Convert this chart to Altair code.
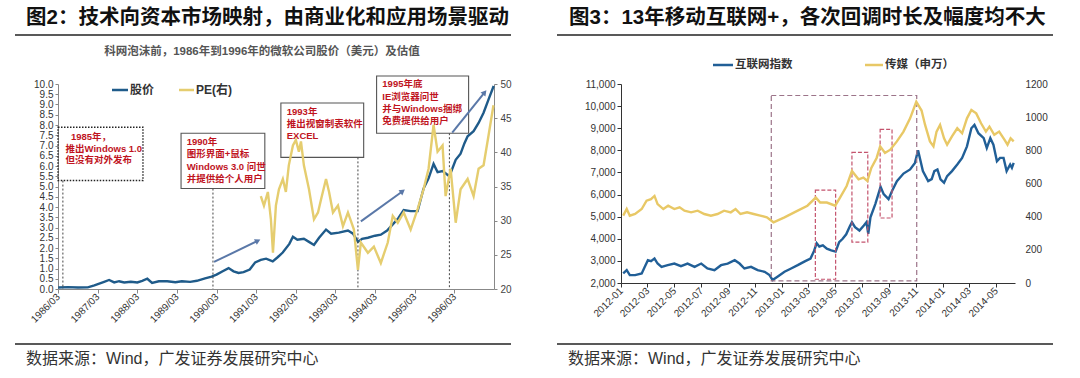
import altair as alt
import pandas as pd

CJK = "Noto Sans CJK SC"
LAT = "Liberation Sans"
MIX = "Liberation Sans, Noto Sans CJK SC"

# ---------------- texts ----------------
f2_title = "图2：技术向资本市场映射，由商业化和应用场景驱动"
f2_subtitle = "科网泡沫前，1986年到1996年的微软公司股价（美元）及估值"
f2_series = ["股价", "PE(右)"]
f3_title = "图3：13年移动互联网+，各次回调时长及幅度均不大"
f3_series = ["互联网指数", "传媒（申万）"]
source_text = "数据来源：Wind，广发证券发展研究中心"

# ---------------- Figure 2 data ----------------
stock_dates = ["1986-03-03","1986-06-01","1986-09-01","1986-12-01","1987-01-30","1987-04-30","1987-06-15","1987-08-01","1987-09-15","1987-11-01",
               "1988-01-01","1988-03-01","1988-04-15","1988-06-01","1988-07-15","1988-09-15","1988-12-01","1989-02-15","1989-04-15","1989-07-01",
               "1989-09-01","1989-11-15","1990-01-15","1990-03-01","1990-05-01","1990-06-20","1990-08-05","1990-09-20","1990-11-05","1991-01-01",
               "1991-02-20","1991-04-13","1991-06-01","1991-08-01","1991-09-15","1991-11-01","1992-01-01","1992-02-03","1992-03-15","1992-05-14",
               "1992-06-30","1992-08-15","1992-10-01","1992-12-04","1993-01-20","1993-04-01","1993-06-24","1993-08-10","1993-09-24","1993-11-01",
               "1993-12-25","1994-03-01","1994-04-23","1994-06-20","1994-08-11","1994-10-01","1994-11-20","1995-01-23","1995-03-28","1995-05-22",
               "1995-07-07","1995-08-22","1995-09-28","1995-11-13","1996-01-15","1996-03-13","1996-04-27","1996-06-01","1996-07-01","1996-08-25",
               "1996-10-10","1996-11-25","1997-01-10","1997-02-26"]
stock_values = [0.07,0.09,0.07,0.08,0.18,0.35,0.44,0.32,0.38,0.32,
                0.35,0.32,0.40,0.50,0.30,0.38,0.38,0.33,0.38,0.35,
                0.40,0.52,0.60,0.70,0.88,1.02,0.86,0.78,0.82,0.95,
                1.30,1.42,1.48,1.35,1.55,1.78,2.20,2.55,2.40,2.45,
                2.30,2.15,2.50,2.90,2.70,2.75,2.85,2.70,2.30,2.45,
                2.50,2.60,2.65,2.85,3.15,3.45,3.85,3.80,3.80,4.90,
                5.40,6.10,5.70,5.75,5.50,6.30,6.60,7.10,7.45,7.70,
                8.10,8.60,9.25,9.90]

pe_dates = ["1991-04-13","1991-05-12","1991-06-17","1991-07-15","1991-08-03","1991-08-30","1991-09-27","1991-11-02","1991-11-30","1991-12-27",
            "1992-02-03","1992-03-01","1992-03-29","1992-04-17","1992-05-14","1992-06-30","1992-08-15","1992-09-21","1992-10-19","1992-12-04",
            "1993-01-01","1993-02-06","1993-03-24","1993-05-09","1993-06-24","1993-08-18","1993-09-24","1993-10-21","1993-12-25","1994-02-18",
            "1994-04-23","1994-06-26","1994-08-11","1994-09-26","1994-11-20","1995-01-23","1995-03-28","1995-05-22","1995-07-07","1995-08-22",
            "1995-09-28","1995-11-13","1995-12-11","1996-01-26","1996-03-13","1996-04-27","1996-07-01","1996-08-25","1996-10-10","1996-11-25",
            "1997-01-10","1997-02-24"]
pe_values = [33.6,32.2,34.2,30.2,25.3,32.2,34.6,36.1,34.2,38.1,
             41.0,41.8,40.1,41.6,38.1,34.6,30.2,31.2,33.1,36.1,
             34.2,31.2,32.2,29.2,31.2,28.7,22.8,26.8,25.3,26.2,
             23.8,26.8,30.7,29.7,31.2,28.7,31.7,34.6,37.6,44.0,
             40.1,41.0,33.6,37.6,29.7,34.6,36.1,33.6,37.6,38.1,
             42.5,46.9]

f2_x_domain = ["1986-03-01", "1997-03-01"]
f2_xticks = ["1986-03-01","1987-03-01","1988-03-01","1989-03-01","1990-03-01","1991-03-01",
             "1992-03-01","1993-03-01","1994-03-01","1995-03-01","1996-03-01"]
f2_left_ticks = [0,0.5,1,1.5,2,2.5,3,3.5,4,4.5,5,5.5,6,6.5,7,7.5,8,8.5,9,9.5,10]
f2_right_ticks = [20,25,30,35,40,45,50]

# annotation boxes (left-axis units)
f2_box_start = ["1986-03-01","1989-04-08","1991-10-15","1994-03-15"]
f2_box_end = ["1988-04-22","1991-05-20","1993-11-16","1996-07-10"]
f2_box_top = [7.89, 7.60, 9.07, 10.39]
f2_box_bottom = [5.29, 4.90, 6.42, 7.60]

# event lines
f2_event_dates = ["1986-04-15","1990-01-27","1993-09-24","1996-01-15"]
f2_event_top = [5.29, 4.90, 6.42, 7.60]
f2_event_bottom = [0, 0, 0, 0]

# notes
f2_note_text = ["1985年，", "推出Windows 1.0", "但没有对外发布",
                "1990年", "图形界面+鼠标", "Windows 3.0 问世", "并提供给个人用户",
                "1993年", "推出视窗制表软件", "EXCEL",
                "1995年底", "IE浏览器问世", "并与Windows捆绑", "免费提供给用户"]
f2_note_dates = ["1986-06-28", "1986-05-10", "1986-05-10",
                 "1989-05-30", "1989-05-30", "1989-05-30", "1989-05-30",
                 "1991-12-08", "1991-12-08", "1991-12-08",
                 "1994-05-07", "1994-05-07", "1994-05-07", "1994-05-07"]
f2_note_values = [7.42, 6.81, 6.29,
                  7.19, 6.57, 5.97, 5.39,
                  8.61, 8.04, 7.44,
                  10.0, 9.35, 8.77, 8.20]

# arrows
f2_arrow_start = ["1990-02-06", "1993-10-21", "1996-02-10"]
f2_arrow_end = ["1991-03-17", "1994-11-10", "1996-12-05"]
f2_arrow_v0 = [1.32, 3.30, 7.63]
f2_arrow_v1 = [2.35, 4.77, 9.59]
f2_arrow_angle = [64, 54, 39]

# ---------------- Figure 3 data ----------------
idx_dates = ["2012-01-06","2012-01-14","2012-01-21","2012-02-02","2012-02-17","2012-02-24","2012-03-02","2012-03-09","2012-03-17","2012-03-24",
             "2012-04-02","2012-04-16","2012-05-01","2012-05-16","2012-05-31","2012-06-16","2012-07-01","2012-07-15","2012-07-31","2012-08-15",
             "2012-08-30","2012-09-15","2012-09-26","2012-10-07","2012-10-22","2012-11-06","2012-11-22","2012-12-03","2012-12-10","2012-12-21",
             "2013-01-06","2013-01-21","2013-02-05","2013-02-21","2013-03-06","2013-03-14","2013-03-20","2013-03-26","2013-04-03","2013-04-12",
             "2013-04-22","2013-05-02","2013-05-10","2013-05-18","2013-05-26","2013-06-03","2013-06-08","2013-06-15","2013-06-25","2013-07-05",
             "2013-07-11","2013-07-15","2013-07-20","2013-07-31","2013-08-12","2013-08-19","2013-08-30","2013-09-07","2013-09-18","2013-10-03",
             "2013-10-18","2013-10-29","2013-11-05","2013-11-16","2013-11-28","2013-12-06","2013-12-12","2013-12-19","2013-12-26",
             "2014-01-03","2014-01-10","2014-01-21","2014-02-02","2014-02-13","2014-02-24","2014-03-06","2014-03-13","2014-03-22","2014-04-03",
             "2014-04-10","2014-04-18","2014-04-25","2014-05-03","2014-05-10","2014-05-18","2014-05-25","2014-06-02","2014-06-06","2014-06-10"]
idx_values = [2434,2582,2358,2358,2434,2731,3030,2985,3105,2880,
              2731,2806,2880,2760,2880,2731,2880,2656,2582,2806,
              2880,3030,2880,2656,2731,2582,2507,2358,2134,2284,
              2507,2656,2806,2980,3105,3450,3800,3650,3700,3550,
              3480,3420,3850,4000,4200,4550,4745,4521,4373,4600,
              4750,4225,4969,5569,6350,6017,5793,6165,6600,6950,
              7136,7432,8000,7060,6612,6700,7060,7136,6686,
              6537,6836,7060,7360,7657,8180,9000,9150,8775,8552,
              8104,8552,8256,7508,7657,7657,7060,7360,7208,7432]

media_dates = ["2012-01-06","2012-01-14","2012-01-21","2012-02-02","2012-02-17","2012-02-28","2012-03-09","2012-03-17","2012-03-24","2012-04-06",
               "2012-04-17","2012-05-01","2012-05-13","2012-05-24","2012-06-08","2012-06-23","2012-07-08","2012-07-23","2012-08-07","2012-08-22",
               "2012-09-06","2012-09-17","2012-09-28","2012-10-13","2012-10-28","2012-11-12","2012-11-27","2012-12-12",
               "2013-01-06","2013-02-05","2013-02-27","2013-03-18","2013-03-28","2013-04-12","2013-05-01","2013-05-12","2013-05-27","2013-06-08",
               "2013-06-23","2013-07-04","2013-07-13","2013-07-22","2013-08-03","2013-08-11","2013-08-22","2013-09-03","2013-09-18","2013-10-03",
               "2013-10-18","2013-11-01","2013-11-13","2013-11-21","2013-12-02","2013-12-10","2013-12-17","2013-12-25",
               "2014-01-03","2014-01-10","2014-01-21","2014-02-02","2014-02-13","2014-02-24","2014-03-06","2014-03-17","2014-03-28","2014-04-08",
               "2014-04-16","2014-04-27","2014-05-08","2014-05-20","2014-05-27","2014-06-03","2014-06-10"]
media_values = [406,446,406,416,446,496,506,525,476,446,
                466,446,456,436,426,436,416,406,416,436,
                426,446,416,426,416,406,396,366,
                396,436,466,515,485,485,466,515,585,675,
                625,635,615,694,754,824,784,804,854,913,
                993,1093,1040,953,854,824,913,953,
                873,834,884,933,903,993,1043,1023,963,913,
                943,894,913,864,834,873,854]

f3_x_domain = ["2012-01-01", "2014-06-13"]
f3_xticks = ["2012-01-01","2012-03-01","2012-05-01","2012-07-01","2012-09-01","2012-11-01",
             "2013-01-01","2013-03-01","2013-05-01","2013-07-01","2013-09-01","2013-11-01",
             "2014-01-01","2014-03-01","2014-05-01"]
f3_left_ticks = [2000,3000,4000,5000,6000,7000,8000,9000,10000,11000]
f3_right_ticks = [0,200,400,600,800,1000,1200]

# dashed boxes (left-axis units); first one is the overall window
f3_box_start = ["2012-12-07","2013-03-17","2013-06-08","2013-08-11"]
f3_box_end = ["2013-11-02","2013-05-02","2013-07-14","2013-09-07"]
f3_box_top = [10480, 6200, 7910, 8950]
f3_box_bottom = [2100, 2170, 3850, 4940]

# ---------------- helpers ----------------
def ms(lst):
    return [int(pd.Timestamp(d).value // 10**6) for d in lst]

_one = pd.DataFrame({"k": [0]})

def ptext(s, x, y, size, color, weight="normal", align="left", font=MIX):
    return alt.Chart(pd.DataFrame({"s": [s]})).mark_text(
        align=align, baseline="middle", fontSize=size, fontWeight=weight, color=color, font=font
    ).encode(x=alt.value(x), y=alt.value(y), text="s:N")

def prule(x1, x2, y, color, width):
    return alt.Chart(_one).mark_rule(color=color, strokeWidth=width).encode(
        x=alt.value(x1), x2=alt.value(x2), y=alt.value(y))

BLUE_L = "#1f5b8a"
YEL_L = "#e5cd6f"
BLUE_R = "#215f97"
YEL_R = "#e8c866"
RED = "#c0141e"
ARROW = "#5a78a8"
INK = "#222222"

# ---------------- Figure 2 ----------------
W1, H1 = 436, 205
xs1 = alt.Scale(type="utc", domain=ms(f2_x_domain), nice=False)
ys1 = alt.Scale(domain=[0, 10], nice=False, zero=False)
ys1r = alt.Scale(domain=[20, 50], nice=False, zero=False)

x1_axis = alt.Axis(values=ms(f2_xticks), labelExpr="utcFormat(datum.value, '%Y/%m')",
                   labelAngle=-45, labelAlign="right", labelBaseline="middle",
                   labelFont=LAT, labelFontSize=10, labelColor="#333", tickColor="#888",
                   domainColor="#888", tickSize=4, labelOverlap=False, labelFlush=False,
                   grid=False, title=None, labelPadding=2)
y1_axis = alt.Axis(values=f2_left_ticks, format=".1f", labelFont=LAT, labelFontSize=10,
                   labelColor="#333", tickColor="#888", domainColor="#888", tickSize=3,
                   grid=False, title=None, labelPadding=2, labelOverlap=False)
y1r_axis = alt.Axis(values=f2_right_ticks, orient="right", labelFont=LAT, labelFontSize=10,
                    labelColor="#444", tickColor="#888", domainColor="#888", tickSize=3,
                    grid=False, title=None, labelPadding=3, labelOverlap=False)

X1 = lambda f: alt.X(f, scale=xs1, axis=x1_axis)
Y1 = lambda f: alt.Y(f, scale=ys1, axis=y1_axis)

df_stock = pd.DataFrame({"t": ms(stock_dates), "v": stock_values})
df_pe = pd.DataFrame({"t": ms(pe_dates), "v": pe_values})
df_box2 = pd.DataFrame({"t0": ms(f2_box_start), "t1": ms(f2_box_end), "top": f2_box_top, "bot": f2_box_bottom})
df_evt = pd.DataFrame({"t": ms(f2_event_dates), "top": f2_event_top, "bot": f2_event_bottom})
df_note = pd.DataFrame({"t": ms(f2_note_dates), "v": f2_note_values, "s": f2_note_text})
df_arr = pd.DataFrame({"t0": ms(f2_arrow_start), "t1": ms(f2_arrow_end), "v0": f2_arrow_v0,
                       "v1": f2_arrow_v1, "ang": f2_arrow_angle})

stock_line = alt.Chart(df_stock).mark_line(color=BLUE_L, strokeWidth=2.4).encode(
    x=X1("t:T"), y=Y1("v:Q"))

evt_rules = alt.Chart(df_evt).mark_rule(color="#444", strokeWidth=1, strokeDash=[2, 2]).encode(
    x=X1("t:T"), y=Y1("top:Q"), y2="bot:Q")

box_dotted = alt.Chart(df_box2.iloc[[0]]).mark_rect(
    fill="white", fillOpacity=0, stroke="#222", strokeWidth=1.4, strokeDash=[1.5, 1.5]).encode(
    x=X1("t0:T"), x2="t1:T", y=Y1("top:Q"), y2="bot:Q")

box_solid = alt.Chart(df_box2.iloc[1:]).mark_rect(
    fill="white", fillOpacity=0, stroke="#555", strokeWidth=1.1).encode(
    x=X1("t0:T"), x2="t1:T", y=Y1("top:Q"), y2="bot:Q")

notes = alt.Chart(df_note).mark_text(align="left", baseline="middle", fontSize=9.5,
                                     fontWeight="bold", color=RED, font=MIX).encode(
    x=X1("t:T"), y=Y1("v:Q"), text="s:N")

arrow_lines = alt.Chart(df_arr).mark_rule(color=ARROW, strokeWidth=2).encode(
    x=X1("t0:T"), x2="t1:T", y=Y1("v0:Q"), y2="v1:Q")

arrow_heads = alt.Chart(df_arr).mark_point(shape="triangle-up", filled=True, size=40,
                                           color=ARROW, opacity=1).encode(
    x=X1("t1:T"), y=Y1("v1:Q"), angle=alt.Angle("ang:Q", scale=None))

pe_line = alt.Chart(df_pe).mark_line(color=YEL_L, strokeWidth=2.4).encode(
    x=X1("t:T"), y=alt.Y("v:Q", scale=ys1r, axis=y1r_axis))

left_main = alt.layer(stock_line, evt_rules, box_dotted, box_solid, notes, arrow_lines, arrow_heads)

left_over = [
    ptext(f2_title, -32, -66, 20.5, "#111", weight="bold"),
    prule(-43, 453, -49, INK, 1.6),
    ptext(f2_subtitle, 204, -32, 11.5, "#555", weight="bold", align="center"),
    prule(54, 70, 6, BLUE_L, 2.5),
    ptext(f2_series[0], 72, 6, 12, "#333", weight="bold"),
    prule(121, 136, 6, YEL_L, 2.5),
    ptext(f2_series[1], 138, 6, 12, "#333", weight="bold"),
    prule(-43, 453, 260, INK, 1.6),
    ptext(source_text, -32, 275, 16, "#333"),
]

left = alt.layer(left_main, pe_line, *left_over).resolve_scale(y="independent").properties(
    width=W1, height=H1)

# ---------------- Figure 3 ----------------
W2, H2 = 394, 199
xs2 = alt.Scale(type="utc", domain=ms(f3_x_domain), nice=False)
ys2 = alt.Scale(domain=[2000, 11000], nice=False, zero=False)
ys2r = alt.Scale(domain=[0, 1200], nice=False, zero=False)

x2_axis = alt.Axis(values=ms(f3_xticks), labelExpr="utcFormat(datum.value, '%Y-%m')",
                   labelAngle=-45, labelAlign="right", labelBaseline="middle",
                   labelFont=LAT, labelFontSize=10, labelColor="#333", tickColor="#333",
                   domainColor="#333", tickSize=4, labelOverlap=False, labelFlush=False,
                   grid=False, title=None, labelPadding=2)
y2_axis = alt.Axis(values=f3_left_ticks, format=",d", labelFont=LAT, labelFontSize=10,
                   labelColor="#333", tickColor="#333", domainColor="#333", tickSize=4,
                   grid=False, title=None, labelPadding=2, labelOverlap=False)
y2r_axis = alt.Axis(values=f3_right_ticks, orient="right", format="d", labelFont=LAT,
                    labelFontSize=10, labelColor="#333", domain=False, ticks=False,
                    grid=False, title=None, labelPadding=10, labelOverlap=False)

X2 = lambda f: alt.X(f, scale=xs2, axis=x2_axis)
Y2 = lambda f: alt.Y(f, scale=ys2, axis=y2_axis)

df_idx = pd.DataFrame({"t": ms(idx_dates), "v": idx_values})
df_media = pd.DataFrame({"t": ms(media_dates), "v": media_values})
df_box3 = pd.DataFrame({"t0": ms(f3_box_start), "t1": ms(f3_box_end), "top": f3_box_top, "bot": f3_box_bottom})

idx_line = alt.Chart(df_idx).mark_line(color=BLUE_R, strokeWidth=2.4).encode(
    x=X2("t:T"), y=Y2("v:Q"))

big_box = alt.Chart(df_box3.iloc[[0]]).mark_rect(
    fill="white", fillOpacity=0, stroke="#9c7489", strokeWidth=1.2, strokeDash=[5, 3]).encode(
    x=X2("t0:T"), x2="t1:T", y=Y2("top:Q"), y2="bot:Q")

small_boxes = alt.Chart(df_box3.iloc[1:]).mark_rect(
    fill="white", fillOpacity=0, stroke="#c4536d", strokeWidth=1.2, strokeDash=[4, 2]).encode(
    x=X2("t0:T"), x2="t1:T", y=Y2("top:Q"), y2="bot:Q")

media_line = alt.Chart(df_media).mark_line(color=YEL_R, strokeWidth=2.4).encode(
    x=X2("t:T"), y=alt.Y("v:Q", scale=ys2r, axis=y2r_axis))

right_main = alt.layer(idx_line, big_box, small_boxes)

right_over = [
    ptext(f3_title, -52, -66, 20.5, "#111", weight="bold"),
    prule(-64, 432, -49, INK, 1.6),
    prule(92, 112, -19, BLUE_R, 2.5),
    ptext(f3_series[0], 114, -19, 11.5, "#333", weight="bold"),
    prule(244, 262, -19, YEL_R, 2.5),
    ptext(f3_series[1], 264, -19, 11.5, "#333", weight="bold"),
    prule(-64, 432, 260, INK, 1.6),
    ptext(source_text, -53, 275, 16, "#333"),
]

right = alt.layer(right_main, media_line, *right_over).resolve_scale(y="independent").properties(
    width=W2, height=H2)

chart = alt.hconcat(left, right, spacing=44).properties(
    padding={"left": 14, "top": 8, "right": 10, "bottom": 4},
    background="white",
).configure_view(stroke=None)

chart.save("out.html", embed_options={"renderer": "svg", "actions": False})
